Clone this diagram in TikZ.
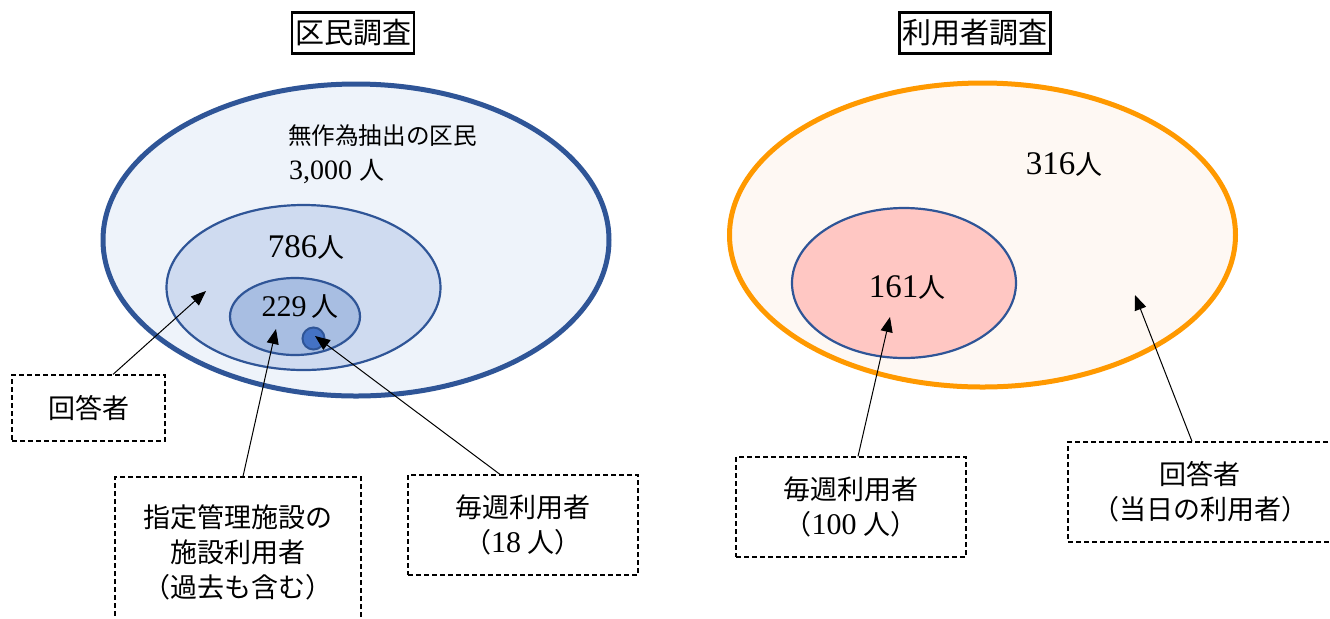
\documentclass[tikz,border=0pt]{standalone}
\usepackage{fontspec}
\setmainfont{Liberation Serif}
\newfontfamily\jp{Noto Sans CJK JP}
\usetikzlibrary{shapes.geometric,arrows.meta}
\newcommand\J[1]{{\jp #1}}
\newcommand\Jn[1]{{\jp\fontsize{13.5}{17.5}\selectfont #1}}
\newcommand\Dg[1]{{\fontsize{15}{17.5}\selectfont #1}}
\definecolor{dblue}{HTML}{2F5597}
\definecolor{fillA}{HTML}{EEF3FA}
\definecolor{fillB}{HTML}{CFDBF0}
\definecolor{fillC}{HTML}{A8BEE2}
\definecolor{dotblue}{HTML}{4472C4}
\definecolor{orng}{HTML}{FF9900}
\definecolor{peach}{HTML}{FEF8F3}
\definecolor{pink}{HTML}{FFC7C3}
\tikzset{
  ell/.style={ellipse, inner sep=0pt, draw=dblue},
  titlebox/.style={draw=black, line width=1.2pt, inner xsep=1.5pt, inner ysep=0pt, minimum height=20.5pt, font=\jp\fontsize{14.5}{17}\selectfont},
  lbl/.style={font=\fontsize{16.5}{17.5}\selectfont, align=center},
  dbox/.style={draw=black, line width=0.6pt, dash pattern=on 2.5pt off 1.5pt, inner sep=0pt, font=\fontsize{13.5}{17.5}\selectfont, align=center},
  arr/.style={draw=black, line width=0.5pt, -{Triangle[length=7.5pt,width=6pt]}},
}
\begin{document}
\begin{tikzpicture}[x=0.5pt,y=-0.5pt]
\useasboundingbox (0,0) rectangle (1330,618);
\clip (0,0) rectangle (1330,618);
\fill[white] (0,0) rectangle (1330,618);

% titles
\node[titlebox] (t1) at (353,33) {区民調査};
\node[titlebox] (t2) at (975,33) {利用者調査};

% left ellipses
\node[ell, fill=fillA, line width=2.5pt, minimum width=253pt, minimum height=156pt] (E1) at (356,240) {};
\node[ell, fill=fillB, line width=1.1pt, minimum width=137pt, minimum height=82.5pt] (E2) at (303.5,287.5) {};
\node[ell, fill=fillC, line width=1.1pt, minimum width=65pt, minimum height=38.5pt] (E3) at (295,316.5) {};
\node[circle, inner sep=0pt, draw=dblue, line width=1pt, fill=dotblue, minimum size=11pt] (E4) at (313.5,338.5) {};

\node[anchor=west, font=\jp\fontsize{11.8}{15}\selectfont] (n1) at (281,136) {無作為抽出の区民};
\node[anchor=west, font=\fontsize{14}{15}\selectfont] (n2) at (282,172) {3,000 {\jp\fontsize{12.5}{15}\selectfont 人}};
\node[lbl] (n3) at (306,247) {786\Jn{人}};
\node[font=\fontsize{15}{17.5}\selectfont] (n4) at (300,307) {229\,\Jn{人}};

% right ellipses
\node[ell, draw=orng, fill=peach, line width=2.5pt, minimum width=253pt, minimum height=152pt] (F1) at (982.5,235) {};
\node[ell, fill=pink, line width=1.1pt, minimum width=112pt, minimum height=75pt] (F2) at (904,283) {};
\node[lbl] (m1) at (1064,165) {316\Jn{人}};
\node[lbl] (m2) at (907,288) {161\Jn{人}};

% boxes
\node[dbox, minimum width=76.5pt, minimum height=33pt] (b1) at (88.5,408) {\J{回答者}};
\node[dbox, minimum width=123pt, minimum height=75pt] (b2) at (238,552) {\J{指定管理施設の}\\\J{施設利用者}\\\J{（過去も含む）}};
\node[dbox, minimum width=115pt, minimum height=50pt] (b3) at (523,525) {\J{毎週利用者}\\\J{（}\Dg{18} \J{人）}};
\node[dbox, minimum width=115pt, minimum height=50pt] (b4) at (851,507) {\J{毎週利用者}\\\J{（}\Dg{100} \J{人）}};
\node[dbox, minimum width=132pt, minimum height=50pt] (b5) at (1200,492) {\J{回答者}\\\J{（当日の利用者）}};

% arrow targets
\coordinate (p1) at (206,291);
\coordinate (p2) at (276,329);
\coordinate (p3) at (315,336);
\coordinate (p4) at (890,317);
\coordinate (p5) at (1135,295);

\draw[arr] ([xshift=12.25pt]b1.north) -- (p1);
\draw[arr] ([xshift=2.5pt]b2.north) -- (p2);
\draw[arr] ([xshift=-11.5pt]b3.north) -- (p3);
\draw[arr] ([xshift=3.5pt]b4.north) -- (p4);
\draw[arr] ([xshift=-4pt]b5.north) -- (p5);
\end{tikzpicture}
\end{document}
